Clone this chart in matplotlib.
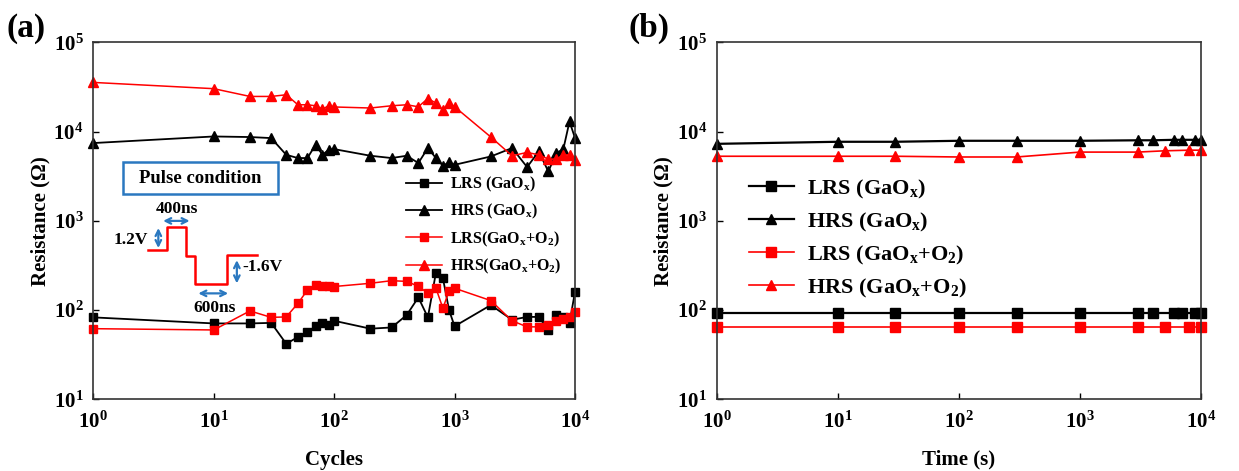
import matplotlib
matplotlib.use("Agg")
import matplotlib.pyplot as plt
from matplotlib.patches import Rectangle

plt.rcParams['font.family'] = ['Liberation Serif', 'DejaVu Serif']
plt.rcParams['font.weight'] = 'bold'
plt.rcParams['mathtext.fontset'] = 'custom'
plt.rcParams['mathtext.rm'] = 'Liberation Serif:bold'
plt.rcParams['mathtext.it'] = 'Liberation Serif:bold'
plt.rcParams['mathtext.bf'] = 'Liberation Serif:bold'
plt.rcParams['mathtext.default'] = 'rm'

# (a) endurance vs cycles
cycles = [1, 10, 20, 30, 40, 50, 60, 70, 80, 90, 100, 200, 300, 400, 500, 600,
          700, 800, 900, 1000, 2000, 3000, 4000, 5000, 6000, 7000, 8000, 9000, 10000]
lrs_gaox = [83, 71, 71, 72, 42, 50, 57, 66, 71, 68, 76, 62, 64, 88, 139, 83,
            263, 228, 100, 66, 114, 78, 84, 84, 60, 88, 84, 72, 161]
hrs_gaox = [7450, 8830, 8700, 8470, 5500, 5060, 5060, 7130, 5500, 6270, 6370, 5370, 5060, 5370, 4450, 6550,
            5060, 4150, 4520, 4250, 5270, 6550, 4010, 6000, 3580, 5750, 6380, 13000, 8470]
lrs_o2 = [62, 60, 98, 83, 84, 119, 168, 192, 185, 185, 184, 200, 214, 210, 185, 155,
          176, 105, 165, 176, 128, 76, 65, 65, 68, 76, 80, 84, 96]
hrs_o2 = [35600, 30300, 24800, 24800, 25900, 20000, 20000, 19500, 17900, 19500, 18900, 18400, 19500, 20000, 19000, 23500,
          20900, 17300, 20900, 19000, 8700, 5370, 5850, 5500, 4930, 4930, 5500, 5500, 4840]

# (b) retention vs time
t_gaox = [1, 10, 30, 100, 300, 1000, 3000, 4000, 6000, 7000, 9000, 10000]
lrs_gaox_t = [93, 93, 93, 93, 93, 93, 93, 93, 93, 93, 93, 93]
hrs_gaox_t = [7300, 7700, 7700, 7900, 7900, 7900, 8000, 8000, 8100, 8100, 8100, 8100]
t_o2 = [1, 10, 30, 100, 300, 1000, 3000, 5000, 8000, 10000]
lrs_o2_t = [64, 64, 64, 64, 64, 64, 64, 64, 64, 64]
hrs_o2_t = [5300, 5300, 5300, 5200, 5200, 5900, 5900, 6100, 6200, 6200]

labels_a = ['LRS (GaO$_\\mathregular{x}$)', 'HRS (GaO$_\\mathregular{x}$)',
            'LRS(GaO$_\\mathregular{x}$+O$_\\mathregular{2}$)', 'HRS(GaO$_\\mathregular{x}$+O$_\\mathregular{2}$)']
labels_b = ['LRS (GaO$_\\mathregular{x}$)', 'HRS (GaO$_\\mathregular{x}$)',
            'LRS (GaO$_\\mathregular{x}$+O$_\\mathregular{2}$)', 'HRS (GaO$_\\mathregular{x}$+O$_\\mathregular{2}$)']

fig = plt.figure(figsize=(12.39, 4.71), dpi=100)
ax1 = fig.add_axes([0.0753, 0.152, 0.3888, 0.758])
ax2 = fig.add_axes([0.5784, 0.152, 0.3909, 0.758])

ax1.plot(cycles, lrs_gaox, '-s', color='black', ms=6, lw=1.3, label=labels_a[0], clip_on=False)
ax1.plot(cycles, hrs_gaox, '-^', color='black', ms=7, lw=1.3, label=labels_a[1], clip_on=False)
ax1.plot(cycles, lrs_o2, '-s', color='red', ms=6, lw=1.1, label=labels_a[2], clip_on=False)
ax1.plot(cycles, hrs_o2, '-^', color='red', ms=7, lw=1.1, label=labels_a[3], clip_on=False)

ax2.plot(t_gaox, lrs_gaox_t, '-s', color='black', ms=7, lw=1.6, label=labels_b[0], clip_on=False)
ax2.plot(t_gaox, hrs_gaox_t, '-^', color='black', ms=7.5, lw=1.6, label=labels_b[1], clip_on=False)
ax2.plot(t_o2, lrs_o2_t, '-s', color='red', ms=7, lw=1.2, label=labels_b[2], clip_on=False)
ax2.plot(t_o2, hrs_o2_t, '-^', color='red', ms=7.5, lw=1.2, label=labels_b[3], clip_on=False)

for ax in (ax1, ax2):
    ax.set_xscale('log')
    ax.set_yscale('log')
    ax.set_xlim(1, 1e4)
    ax.set_ylim(10, 1e5)
    ax.minorticks_off()
    ax.tick_params(direction='in', length=4, width=1, labelsize=15)
    ax.tick_params(axis='x', pad=9)
    ax.tick_params(axis='y', pad=7)
    for s in ax.spines.values():
        s.set_linewidth(1.2)
        s.set_color('#333333')
    ax.set_ylabel('Resistance (\u03a9)', fontsize=15, fontweight='bold', labelpad=2)

ax1.set_xlabel('Cycles', fontsize=15, fontweight='bold', labelpad=12)
ax2.set_xlabel('Time (s)', fontsize=15, fontweight='bold', labelpad=12)

ax1.legend(loc='upper left', bbox_to_anchor=(0.625, 0.66), frameon=False, fontsize=11.5,
           handlelength=2.3, handletextpad=0.5, labelspacing=0.5, borderpad=0.2)
ax2.legend(loc='upper left', bbox_to_anchor=(0.035, 0.665), frameon=False, fontsize=16,
           handlelength=2.0, handletextpad=0.6, labelspacing=0.45, borderpad=0.2)

fig.text(0.005, 0.922, '(a)', fontsize=24, fontweight='bold')
fig.text(0.507, 0.922, '(b)', fontsize=24, fontweight='bold')

# pulse condition sketch inside panel (a), in axes fraction coordinates
blue = '#2a78c0'
tr = ax1.transAxes
ax1.add_patch(Rectangle((0.061, 0.575), 0.323, 0.091, transform=tr, fc='white', ec=blue, lw=1.8))
ax1.text(0.222, 0.620, 'Pulse condition', transform=tr, fontsize=13.5, fontweight='bold',
         ha='center', va='center')
pulse_x = [0.114, 0.153, 0.153, 0.192, 0.192, 0.211, 0.211, 0.277, 0.277, 0.339]
pulse_y = [0.418, 0.418, 0.482, 0.482, 0.402, 0.402, 0.323, 0.323, 0.405, 0.405]
ax1.plot(pulse_x, pulse_y, color='red', lw=1.8, transform=tr, clip_on=False)
arrow = dict(arrowstyle='<->', color=blue, lw=1.6, shrinkA=0, shrinkB=0, mutation_scale=10)
ax1.annotate('', xy=(0.145, 0.500), xytext=(0.200, 0.500), xycoords=tr, textcoords=tr, arrowprops=arrow)
ax1.annotate('', xy=(0.135, 0.424), xytext=(0.135, 0.480), xycoords=tr, textcoords=tr, arrowprops=arrow)
ax1.annotate('', xy=(0.218, 0.297), xytext=(0.280, 0.297), xycoords=tr, textcoords=tr, arrowprops=arrow)
ax1.annotate('', xy=(0.298, 0.325), xytext=(0.298, 0.390), xycoords=tr, textcoords=tr, arrowprops=arrow)
ax1.text(0.173, 0.533, '400ns', transform=tr, fontsize=12.5, ha='center', va='center')
ax1.text(0.077, 0.447, '1.2V', transform=tr, fontsize=12.5, ha='center', va='center')
ax1.text(0.352, 0.370, '-1.6V', transform=tr, fontsize=12.5, ha='center', va='center')
ax1.text(0.252, 0.257, '600ns', transform=tr, fontsize=12.5, ha='center', va='center')

fig.savefig('out.png', dpi=100)
